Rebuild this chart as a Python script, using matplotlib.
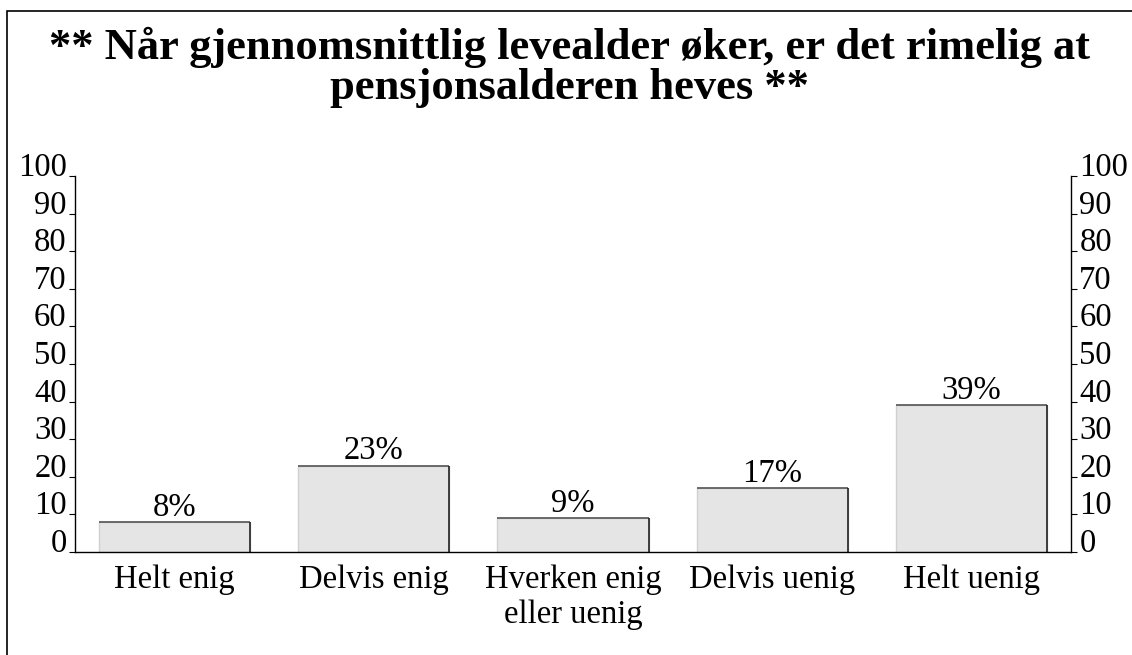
import matplotlib
matplotlib.use('Agg')
import matplotlib.pyplot as plt
from matplotlib.patches import Rectangle

categories = ['Helt enig', 'Delvis enig', 'Hverken enig\neller uenig', 'Delvis uenig', 'Helt uenig']
values = [8, 23, 9, 17, 39]
bar_labels = ['8%', '23%', '9%', '17%', '39%']
yticks = [0, 10, 20, 30, 40, 50, 60, 70, 80, 90, 100]
title = '** Når gjennomsnittlig levealder øker, er det rimelig at\npensjonsalderen heves **'

plt.rcParams['font.family'] = ['Liberation Serif', 'DejaVu Serif']

W, H = 1132, 655
fig = plt.figure(figsize=(W / 100, H / 100), dpi=100)
# frame: only left and top edges fall inside the picture
fig.patches.append(Rectangle((7 / W, -0.1), 1.2, 1.1 - 11 / H, transform=fig.transFigure,
                             fill=False, edgecolor='black', linewidth=1.2))

ax = fig.add_axes([75 / W, 1 - 552 / H, 996 / W, 376 / H])
x = range(len(categories))
width = 0.76
bars = ax.bar(x, values, width=width, color='#e5e5e5', edgecolor='#d0d0d0', linewidth=1)
for b, lab in zip(bars, bar_labels):
    x0, x1, top = b.get_x(), b.get_x() + b.get_width(), b.get_height()
    ax.plot([x0, x1], [top, top], color='#555555', linewidth=1.2, solid_capstyle='butt')
    ax.plot([x1, x1], [0, top], color='#222222', linewidth=1.2, solid_capstyle='butt')
    ax.annotate(lab, (b.get_x() + b.get_width() / 2, top), xytext=(0, 4.5),
                textcoords='offset points', ha='center', va='baseline', fontsize=23.5)

ax.set_xlim(-0.5, 4.5)
ax.set_ylim(0, 100)
ax.set_xticks(list(x))
ax.set_xticklabels(categories, fontsize=23.5, linespacing=1.2)
ax.tick_params(axis='x', length=0, pad=9)
ax.set_yticks(yticks)
ax.tick_params(axis='y', labelsize=23.5, length=4, pad=2, direction='out',
               left=True, right=True, labelleft=True, labelright=True)
for t in ax.yaxis.get_major_ticks():
    t.label1.set_va('baseline')
    t.label2.set_va('baseline')
ax.spines['top'].set_visible(False)
for s in ['left', 'right', 'bottom']:
    ax.spines[s].set_linewidth(1)
    ax.spines[s].set_zorder(3)

fig.text(0.503, 1 - 27 / H, title, ha='center', va='top', fontsize=32, fontweight='bold',
         linespacing=1.0)

fig.savefig('out.png', dpi=100)
